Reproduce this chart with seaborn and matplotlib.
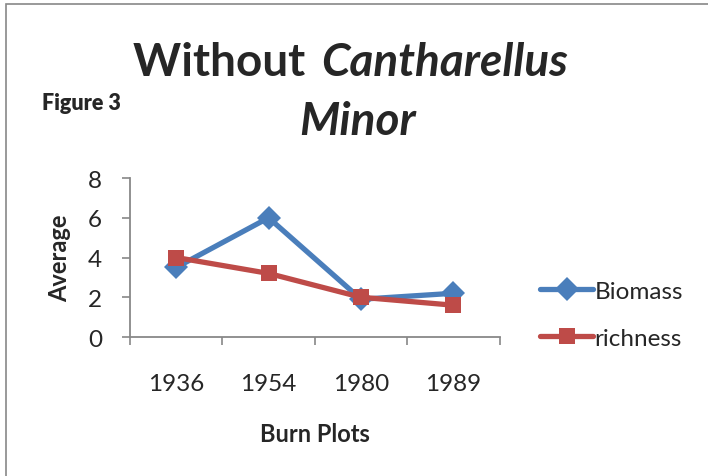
import pandas as pd
import seaborn as sns
import matplotlib.pyplot as plt
from matplotlib.ticker import FixedLocator

# data
years = ["1936", "1954", "1980", "1989"]
biomass = [3.5, 6.0, 1.9, 2.2]
richness = [4.0, 3.2, 2.0, 1.6]

df = pd.DataFrame({
    "pos": list(range(len(years))) * 2,
    "value": biomass + richness,
    "series": ["Biomass"] * len(years) + ["richness"] * len(years),
})

sns.set_theme(style="white")
plt.rcParams['font.family'] = ['Lato', 'DejaVu Sans']

fig = plt.figure(figsize=(7.08, 4.77), dpi=100)
ax = fig.add_axes([0.1836, 0.2914, 0.522, 0.3333])

sns.lineplot(data=df, x="pos", y="value", hue="series", style="series",
             markers={"Biomass": "D", "richness": "s"}, dashes=False,
             palette={"Biomass": "#4A7EBB", "richness": "#BE4B48"},
             linewidth=3.8, markersize=12, markeredgewidth=0, ax=ax)

ax.set_xlim(-0.5, len(years) - 0.5)
ax.set_ylim(0, 8)
ax.set_yticks([0, 2, 4, 6, 8])
ax.xaxis.set_major_locator(FixedLocator([i - 0.5 for i in range(len(years) + 1)]))
ax.xaxis.set_major_formatter(plt.NullFormatter())
ax.xaxis.set_minor_locator(FixedLocator(list(range(len(years)))))
ax.set_xticklabels(years, minor=True)
ax.tick_params(axis="x", which="major", direction="out", length=6, width=1.2,
               color="#888888", bottom=True)
ax.tick_params(axis="x", which="minor", length=0, pad=26, labelsize=17.5)
ax.tick_params(axis="y", direction="out", length=6, width=1.2, color="#888888",
               left=True, pad=14, labelsize=17.5)

for s in ["top", "right"]:
    ax.spines[s].set_visible(False)
for s in ["left", "bottom"]:
    ax.spines[s].set_color("#888888")
    ax.spines[s].set_linewidth(1.3)

ax.set_xlabel("Burn Plots", fontsize=17, fontweight="bold", labelpad=20)
ax.set_ylabel("Average", fontsize=17, fontweight="bold", labelpad=12)

leg = ax.legend(loc="center left", bbox_to_anchor=(1.05, 0.14), frameon=False,
                fontsize=17.5, handlelength=2.2, handletextpad=0.05,
                labelspacing=1.05)

# title with mixed styles
fig.text(0.447, 0.868, "Without ", fontsize=33, fontweight="bold", ha="right", va="center")
fig.text(0.453, 0.868, "Cantharellus", fontsize=33, fontweight="bold",
         style="italic", ha="left", va="center")
fig.text(0.505, 0.745, "Minor", fontsize=33, fontweight="bold", style="italic",
         ha="center", va="center")
fig.text(0.06, 0.782, "Figure 3", fontsize=15.5, fontweight="heavy", ha="left", va="center")

# chart border
fig.patches.append(plt.Rectangle((0.009, -0.01), 1.0, 1.0, transform=fig.transFigure,
                                 fill=False, edgecolor="#888888", linewidth=1.2))

fig.savefig("out.png", dpi=100)
